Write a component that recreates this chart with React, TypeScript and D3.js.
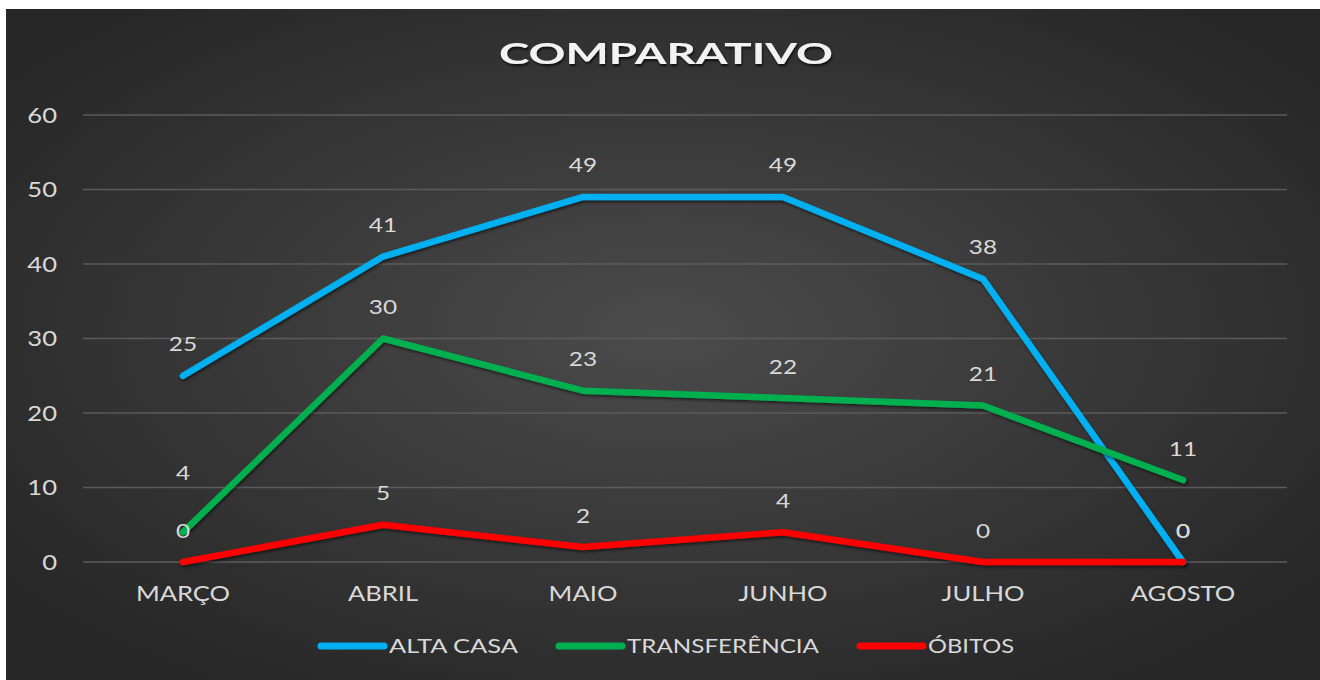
import React from "react";
import * as d3 from "d3";

const title = "COMPARATIVO";
const categories = ["MARÇO", "ABRIL", "MAIO", "JUNHO", "JULHO", "AGOSTO"];
const seriesNames = ["ALTA CASA", "TRANSFERÊNCIA", "ÓBITOS"];
const altaCasa = [25, 41, 49, 49, 38, 0];
const transferencia = [4, 30, 23, 22, 21, 11];
const obitos = [0, 5, 2, 4, 0, 0];
const yTicks = [0, 10, 20, 30, 40, 50, 60];
const colors = ["#00B0F0", "#00B050", "#FF0000"];
// extra label lift (px) used by the original to avoid overlapping labels
const transferLabelLift = [28, 0, 0, 0, 0, 0];

const W = 1320;
const H = 680;
const FONT = "Lato, 'Open Sans', sans-serif";
const TEXT = "#D9D9D9";
const SX = 1.22;

function SText({ x, y, children, anchor = "middle", size = 20, fill = TEXT, sx = SX, weight = 400 }: any) {
  return (
    <text
      transform={`translate(${x},${y}) scale(${sx},1)`}
      textAnchor={anchor}
      fontFamily={FONT}
      fontSize={size}
      fontWeight={weight}
      fill={fill}
    >
      {children}
    </text>
  );
}

export default function App() {
  const x = d3.scalePoint<string>().domain(categories).range([183, 1183]);
  const y = d3.scaleLinear().domain([0, 60]).range([562, 115]);
  const series = [altaCasa, transferencia, obitos];
  const line = d3
    .line<number>()
    .x((_, i) => x(categories[i]) as number)
    .y((d) => y(d));

  const legendTextW = [129, 192, 86];
  const legendLine = 63;
  const legendGap = 5;
  const legendSpacing = 41;
  let lx = 321;
  const legendX: number[] = [];
  legendTextW.forEach((w) => {
    legendX.push(lx);
    lx += legendLine + legendGap + w + legendSpacing;
  });

  return (
    <svg width={W} height={H} style={{ position: "absolute", left: 0, top: 0 }}>
      <defs>
        <radialGradient id="bg" cx="50%" cy="48%" r="62%" fx="50%" fy="48%">
          <stop offset="0%" stopColor="#4B4B4B" />
          <stop offset="100%" stopColor="#272727" />
        </radialGradient>
        <filter id="shadow" x="-10%" y="-10%" width="120%" height="130%">
          <feDropShadow dx="1" dy="2" stdDeviation="1.5" floodColor="#000" floodOpacity="0.55" />
        </filter>
        <filter id="tshadow" x="-10%" y="-20%" width="120%" height="150%">
          <feDropShadow dx="1" dy="2" stdDeviation="1.2" floodColor="#000" floodOpacity="0.7" />
        </filter>
      </defs>
      <rect x={0} y={0} width={W} height={H} fill="#fff" />
      <rect x={6} y={9} width={W - 6} height={H - 9} fill="url(#bg)" />

      {/* title */}
      <text
        x={666}
        y={64}
        textAnchor="middle"
        fontFamily={FONT}
        fontWeight={700}
        fontSize={28}
        fill="#F2F2F2"
        textLength={334}
        lengthAdjust="spacingAndGlyphs"
        filter="url(#tshadow)"
      >
        {title}
      </text>

      {/* gridlines & y labels */}
      {yTicks.map((t) => (
        <g key={t}>
          <line x1={83} x2={1287} y1={y(t)} y2={y(t)} stroke="#5B5B5B" strokeWidth={1.5} />
          <SText x={57} y={y(t) + 7.5} anchor="end" size={21}>
            {t}
          </SText>
        </g>
      ))}

      {/* x labels */}
      {categories.map((c) => (
        <SText key={c} x={x(c)} y={601} size={21}>
          {c}
        </SText>
      ))}

      {/* lines */}
      {series.map((s, i) => (
        <path
          key={i}
          d={line(s) as string}
          fill="none"
          stroke={colors[i]}
          strokeWidth={6.5}
          strokeLinejoin="round"
          strokeLinecap="round"
          filter="url(#shadow)"
        />
      ))}

      {/* data labels */}
      {series.map((s, i) =>
        s.map((v, j) => (
          <SText
            key={`${i}-${j}`}
            x={x(categories[j])}
            y={y(v) - 24.5 - (i === 1 ? transferLabelLift[j] : 0)}
            size={20}
          >
            {v}
          </SText>
        ))
      )}

      {/* legend */}
      {seriesNames.map((n, i) => (
        <g key={n}>
          <line
            x1={legendX[i]}
            x2={legendX[i] + legendLine}
            y1={646}
            y2={646}
            stroke={colors[i]}
            strokeWidth={7}
            strokeLinecap="round"
          />
          <text
            x={legendX[i] + legendLine + legendGap}
            y={653}
            fontFamily={FONT}
            fontSize={20}
            fill={TEXT}
            textLength={legendTextW[i]}
            lengthAdjust="spacingAndGlyphs"
          >
            {n}
          </text>
        </g>
      ))}
    </svg>
  );
}
